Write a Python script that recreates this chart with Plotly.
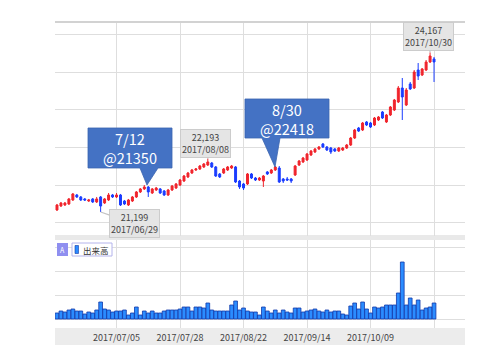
import plotly.graph_objects as go

# ---------------- data ----------------
dates = [
    "2017/06/14", "2017/06/15", "2017/06/16", "2017/06/19", "2017/06/20", "2017/06/21", "2017/06/22",
    "2017/06/23", "2017/06/26", "2017/06/27", "2017/06/28", "2017/06/29", "2017/06/30",
    "2017/07/03", "2017/07/04", "2017/07/05", "2017/07/06", "2017/07/07", "2017/07/10", "2017/07/11",
    "2017/07/12", "2017/07/13", "2017/07/14", "2017/07/18", "2017/07/19", "2017/07/20", "2017/07/21",
    "2017/07/24", "2017/07/25", "2017/07/26", "2017/07/27", "2017/07/28", "2017/07/31",
    "2017/08/01", "2017/08/02", "2017/08/03", "2017/08/04", "2017/08/07", "2017/08/08", "2017/08/09",
    "2017/08/10", "2017/08/14", "2017/08/15", "2017/08/16", "2017/08/17", "2017/08/18", "2017/08/21",
    "2017/08/22", "2017/08/23", "2017/08/24", "2017/08/25", "2017/08/28", "2017/08/29", "2017/08/30",
    "2017/08/31",
    "2017/09/01", "2017/09/05", "2017/09/06", "2017/09/07", "2017/09/08", "2017/09/11", "2017/09/12",
    "2017/09/13", "2017/09/14", "2017/09/15", "2017/09/19", "2017/09/20", "2017/09/21", "2017/09/22",
    "2017/09/25", "2017/09/26", "2017/09/27", "2017/09/28", "2017/09/29",
    "2017/10/02", "2017/10/03", "2017/10/04", "2017/10/05", "2017/10/06", "2017/10/09", "2017/10/10",
    "2017/10/11", "2017/10/12", "2017/10/13", "2017/10/16", "2017/10/17", "2017/10/18", "2017/10/19",
    "2017/10/20", "2017/10/23", "2017/10/24", "2017/10/25", "2017/10/26", "2017/10/27", "2017/10/30",
    "2017/10/31",
]

opens = [
    21236, 21310, 21329, 21348, 21422, 21515, 21478, 21441, 21403, 21441,
    21385, 21478, 21366, 21422, 21515, 21478, 21515, 21403, 21329, 21403,
    21478, 21571, 21627, 21664, 21552, 21608, 21627, 21589, 21515, 21608,
    21645, 21701, 21775, 21850, 21924, 21980, 21999, 22036, 22073, 22110,
    22036, 21906, 21924, 21980, 22017, 22036, 21775, 21720, 21720, 21906,
    21831, 21794, 21775, 21943, 21924, 21980, 22017, 21813, 21813, 21813,
    21887, 22073, 22129, 22166, 22259, 22315, 22371, 22464, 22408, 22389,
    22371, 22333, 22352, 22389, 22445, 22575, 22761, 22724, 22873, 22854,
    22817, 22910, 23059, 22873, 23003, 23096, 23245, 23505, 23189, 23580,
    23505, 23840, 23747, 23840, 23989, 24045,
]
highs = [
    21348, 21385, 21385, 21459, 21552, 21534, 21496, 21459, 21441, 21459,
    21478, 21496, 21459, 21552, 21534, 21552, 21534, 21422, 21441, 21496,
    21589, 21645, 21701, 21682, 21645, 21664, 21645, 21608, 21627, 21701,
    21738, 21813, 21887, 21943, 21999, 22017, 22073, 22110, 22193, 22129,
    22054, 21924, 22017, 22054, 22073, 22054, 21794, 21738, 21924, 21924,
    21850, 21850, 21887, 21961, 21999, 22054, 22054, 21831, 21850, 21831,
    22073, 22166, 22222, 22296, 22352, 22389, 22426, 22482, 22426, 22408,
    22389, 22408, 22408, 22464, 22594, 22743, 22780, 22873, 22891, 22873,
    22966, 22984, 23077, 23022, 23170, 23301, 23542, 23691, 23505, 23617,
    23840, 23970, 23877, 24026, 24167, 24082,
]
lows = [
    21217, 21292, 21310, 21329, 21403, 21459, 21403, 21403, 21385, 21366,
    21366, 21199, 21348, 21403, 21459, 21459, 21310, 21329, 21310, 21385,
    21459, 21552, 21608, 21478, 21534, 21589, 21534, 21496, 21496, 21589,
    21627, 21682, 21757, 21831, 21906, 21961, 21980, 22017, 22054, 22017,
    21850, 21831, 21906, 21961, 21999, 21738, 21627, 21608, 21701, 21813,
    21775, 21775, 21664, 21887, 21906, 21961, 21738, 21738, 21775, 21738,
    21868, 22054, 22110, 22147, 22240, 22296, 22352, 22389, 22333, 22278,
    22315, 22315, 22333, 22371, 22426, 22557, 22687, 22705, 22798, 22761,
    22798, 22891, 22929, 22854, 22984, 23077, 23226, 22910, 23170, 23468,
    23487, 23654, 23728, 23821, 23970, 23617,
]
closes = [
    21329, 21366, 21366, 21441, 21534, 21478, 21422, 21422, 21422, 21385,
    21441, 21310, 21441, 21515, 21478, 21515, 21329, 21348, 21422, 21478,
    21571, 21627, 21664, 21571, 21627, 21645, 21552, 21515, 21608, 21682,
    21720, 21794, 21868, 21924, 21980, 21999, 22054, 22092, 22129, 22036,
    21868, 21850, 21999, 22036, 22054, 21757, 21664, 21645, 21906, 21831,
    21794, 21831, 21868, 21906, 21980, 22036, 21757, 21775, 21794, 21775,
    22054, 22147, 22203, 22278, 22333, 22371, 22408, 22408, 22352, 22315,
    22333, 22389, 22389, 22445, 22575, 22724, 22705, 22854, 22817, 22780,
    22947, 22966, 22947, 23003, 23152, 23282, 23505, 23338, 23468, 23487,
    23803, 23728, 23859, 23989, 24100, 23989,
]
volumes = [
    150, 200, 175, 225, 250, 200, 200, 125, 175, 150,
    225, 425, 250, 225, 175, 200, 200, 225, 100, 150,
    300, 100, 200, 150, 200, 150, 150, 200, 225, 225,
    225, 250, 300, 300, 200, 300, 300, 275, 400, 225,
    200, 200, 200, 200, 350, 450, 225, 275, 200, 175,
    175, 100, 300, 200, 150, 225, 150, 225, 175, 150,
    275, 275, 175, 200, 225, 250, 200, 175, 225, 175,
    200, 200, 125, 100, 325, 400, 250, 425, 250, 150,
    300, 275, 300, 350, 350, 350, 650, 1425, 350, 525,
    350, 475, 225, 275, 300, 400,
]

tick_dates = ["2017/07/05", "2017/07/28", "2017/08/22", "2017/09/14", "2017/10/09", "2017/10/31"]
tick_text = ["2017/07/05", "2017/07/28", "2017/08/22", "2017/09/14", "2017/10/09", ""]

callouts = [("7/12", "@21350"), ("8/30", "@22418")]

# ---------------- layout helpers ----------------
W, H = 500, 362
ML, MR, MT, MB = 55, 35, 22, 34
PW, PH = W - ML - MR, H - MT - MB

def px(x):
    return (x - ML) / PW

def py(y):
    return (H - MB - y) / PH

RED = "#f0242c"
BLUE = "#1a3cff"
GRID = "#dedede"
FONT = "Noto Sans CJK JP, Noto Sans, sans-serif"

fig = go.Figure()
fig.add_trace(go.Candlestick(
    x=dates, open=opens, high=highs, low=lows, close=closes,
    xaxis="x", yaxis="y",
    increasing=dict(line=dict(color=RED, width=1), fillcolor=RED),
    decreasing=dict(line=dict(color=BLUE, width=1), fillcolor=BLUE),
    whiskerwidth=0, showlegend=False, hoverinfo="skip",
))
fig.add_trace(go.Bar(
    x=dates, y=volumes, xaxis="x", yaxis="y2",
    marker=dict(color="#2b8cff", line=dict(color="#1238a8", width=0.8)),
    showlegend=False, hoverinfo="skip",
))

shapes = []
# grey strip between panels and bottom axis band
shapes.append(dict(type="rect", xref="paper", yref="paper", x0=0, x1=1, y0=py(240), y1=py(235),
                   fillcolor="#e9e9e9", line=dict(width=0), layer="below"))
shapes.append(dict(type="rect", xref="paper", yref="paper", x0=0, x1=1, y0=py(345), y1=py(328),
                   fillcolor="#ececec", line=dict(width=0), layer="below"))
# top border
shapes.append(dict(type="line", xref="paper", yref="paper", x0=0, x1=1, y0=1, y1=1,
                   line=dict(color="#d2d2d2", width=2)))

# callout bubbles (pixel geometry -> paper coords)
bubbles = [
    dict(box=(88, 128, 172, 168), base=(140, 158), tip=(147, 185)),
    dict(box=(245, 99, 329, 138), base=(262, 280), tip=(275, 167)),
]
annotations = []
for b, (l1, l2) in zip(bubbles, callouts):
    x0, y0, x1, y1 = b["box"]
    bl, br = b["base"]
    tx, ty = b["tip"]
    pts = [(x0, y0), (x1, y0), (x1, y1), (br, y1), (tx, ty), (bl, y1), (x0, y1)]
    path = "M " + " L ".join(f"{px(a):.4f},{py(c):.4f}" for a, c in pts) + " Z"
    shapes.append(dict(type="path", xref="paper", yref="paper", path=path,
                       fillcolor="#4472c4", line=dict(color="#3b64b0", width=0.8), layer="above"))
    cx = px((x0 + x1) / 2)
    for txt, yy in ((l1, y0 + 10.5), (l2, y0 + 29.5)):
        annotations.append(dict(xref="paper", yref="paper", x=cx, y=py(yy),
                                xanchor="center", yanchor="middle",
                                text=txt, showarrow=False,
                                font=dict(family=FONT, size=14.5, color="white")))

# max / min labels
lab_style = dict(showarrow=True, arrowhead=0, arrowcolor="#c4c4c4", arrowwidth=1.2,
                 bgcolor="#e5e5e5", bordercolor="#cccccc", borderwidth=1, borderpad=1,
                 font=dict(family=FONT, size=9, color="#444444"), xref="x", yref="y")
i_max = highs.index(max(highs))
i_min = lows.index(min(lows))
i_mid = dates.index("2017/08/08")
annotations.append(dict(x=dates[i_max], y=highs[i_max], ax=-2, ay=-16,
                        text=f"{highs[i_max]:,}<br>{dates[i_max]}", **lab_style))
annotations.append(dict(x=dates[i_mid], y=highs[i_mid], ax=-2, ay=-15,
                        text=f"{highs[i_mid]:,}<br>{dates[i_mid]}", **lab_style))
annotations.append(dict(x=dates[i_min], y=lows[i_min], ax=34, ay=12,
                        text=f"{lows[i_min]:,}<br>{dates[i_min]}", **lab_style))

# legend of the volume panel
shapes.append(dict(type="rect", xref="paper", yref="paper", x0=px(57), x1=px(68), y0=py(256), y1=py(243),
                   fillcolor="#8f8ff0", line=dict(width=0), layer="above"))
annotations.append(dict(xref="paper", yref="paper", x=px(62.5), y=py(249.5), text="A", showarrow=False,
                        xanchor="center", yanchor="middle",
                        font=dict(family=FONT, size=7, color="white")))
shapes.append(dict(type="rect", xref="paper", yref="paper", x0=px(72), x1=px(112), y0=py(256), y1=py(243),
                   fillcolor="white", line=dict(color="#b4b4ec", width=1), layer="above"))
shapes.append(dict(type="rect", xref="paper", yref="paper", x0=px(75), x1=px(78.5), y0=py(253.5), y1=py(245.5),
                   fillcolor="#2b8cff", line=dict(color="#1238a8", width=0.6), layer="above"))
annotations.append(dict(xref="paper", yref="paper", x=px(95.5), y=py(249.5), text="出来高", showarrow=False,
                        xanchor="center", yanchor="middle",
                        font=dict(family=FONT, size=8.5, color="#333333")))

fig.update_layout(
    width=W, height=H,
    margin=dict(l=ML, r=MR, t=MT, b=MB),
    paper_bgcolor="white", plot_bgcolor="rgba(0,0,0,0)",
    showlegend=False, hovermode=False,
    font=dict(family=FONT),
    xaxis=dict(type="category", domain=[0, 1], anchor="y2", range=[-0.5, 102.8],
               tickmode="array", tickvals=tick_dates, ticktext=tick_text,
               showgrid=True, gridcolor=GRID, gridwidth=1, ticks="", showline=False, zeroline=False,
               tickfont=dict(family=FONT, size=9, color="#444444"), ticklabelstandoff=3,
               rangeslider=dict(visible=False)),
    yaxis=dict(domain=[py(236), 1], range=[20752, 24733], tick0=21000, dtick=700,
               showgrid=True, gridcolor=GRID, showticklabels=False, zeroline=False, showline=False),
    yaxis2=dict(domain=[0, py(240)], range=[-225, 1975], tick0=0, dtick=600,
                showgrid=True, gridcolor=GRID, showticklabels=False, zeroline=False, showline=False),
    bargap=0.06,
    shapes=shapes,
    annotations=annotations,
)

fig.write_html("out.html", config={"displayModeBar": False},
               post_script="document.body.style.margin='0';")
